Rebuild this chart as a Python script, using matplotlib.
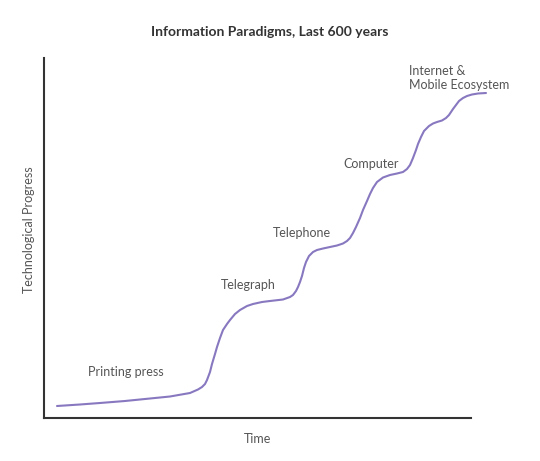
import matplotlib
matplotlib.use("Agg")
import matplotlib.pyplot as plt

# Curve (time, progress) in arbitrary units
time = [13, 36, 56, 81, 106, 126, 146, 154, 158, 161, 163, 166, 168, 171, 173, 176,
        179, 183, 186, 191, 196, 203, 209, 218, 226, 239, 246, 249, 252, 254, 256, 258,
        260, 262, 265, 269, 273, 279, 286, 293, 299, 303, 306, 309, 312, 316, 319, 323,
        326, 329, 333, 339, 346, 353, 359, 363, 366, 369, 372, 374, 377, 380, 385, 389,
        393, 398, 402, 405, 407, 409, 412, 415, 419, 423, 428, 434, 442]
progress = [12, 13.5, 15, 17, 19.5, 21.5, 25, 28.5, 31, 34, 38, 46, 54, 64, 71, 80,
            88, 94, 98, 104, 108, 112, 114, 116, 117, 118.5, 121, 123, 127, 131, 136, 142,
            150, 156, 162, 166, 168, 169.5, 171, 172.5, 174.5, 177, 180, 185, 191, 200, 208, 217,
            224, 230, 236, 240.5, 243, 244.5, 246, 249, 253, 260, 268, 274, 281, 287, 292, 294.5,
            296, 297.5, 300, 303, 306, 309, 313, 317, 320, 322, 323.5, 324.5, 325]

labels = ["Printing press", "Telegraph", "Telephone", "Computer", "Internet &\nMobile Ecosystem"]
label_x = [44, 177, 229, 299, 365]
label_y = [46, 133, 185, 254, 340]

fig = plt.figure(figsize=(5.4, 4.61), dpi=100)
ax = fig.add_axes([44/540, 1-418/461, (471-44)/540, (418-58)/461])
ax.plot(time, progress, color="#8878c0", lw=1.5, clip_on=False,
        solid_capstyle="round", solid_joinstyle="round")
ax.set_xlim(0, 427)
ax.set_ylim(0, 360)
ax.set_xticks([])
ax.set_yticks([])
for s in ["top", "right"]:
    ax.spines[s].set_visible(False)
for s in ["left", "bottom"]:
    ax.spines[s].set_color("#333333")
    ax.spines[s].set_linewidth(1.5)

for t, x, y in zip(labels, label_x, label_y):
    ax.text(x, y, t, fontsize=9, color="#555555", family="Lato", va="center", ha="left",
            linespacing=1.25)

fig.text(0.5, 1-32/461, "Information Paradigms, Last 600 years", ha="center", va="center",
         fontsize=10, fontweight="bold", color="#333333", family="Lato")
ax.set_xlabel("Time", fontsize=9, color="#555555", family="Lato", labelpad=11)
ax.set_ylabel("Technological Progress", fontsize=9, color="#555555", family="Lato")
ax.yaxis.set_label_coords(-0.02, 0.522)

fig.savefig("out.png", dpi=100)
